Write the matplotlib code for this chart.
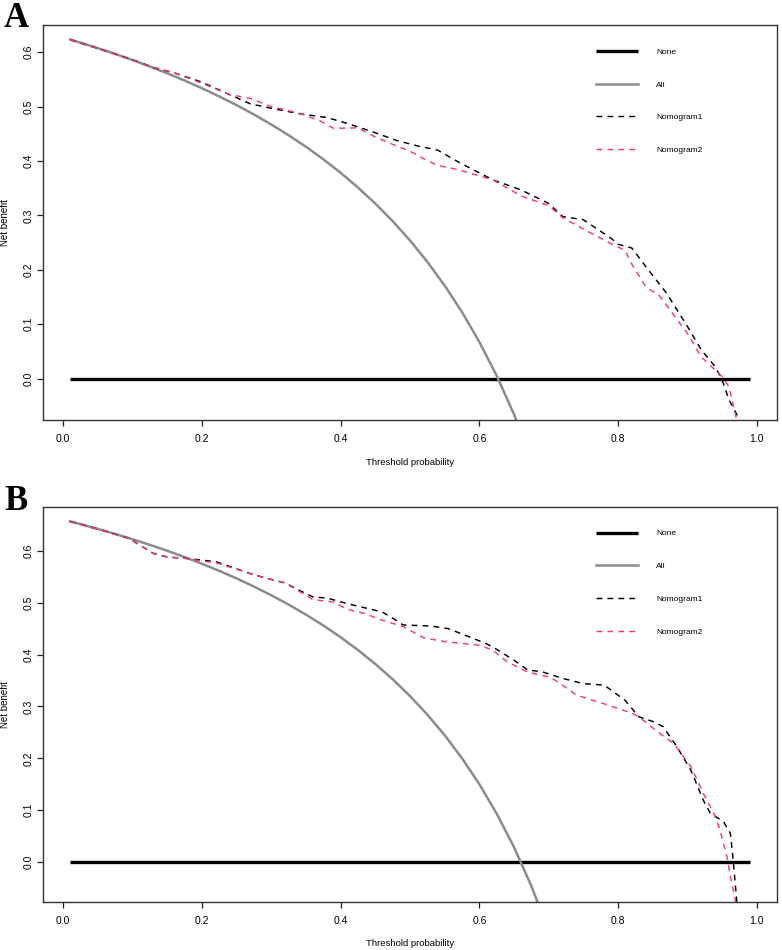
import matplotlib
matplotlib.use("Agg")
import matplotlib.pyplot as plt

plt.rcParams['font.family'] = ['Liberation Sans', 'DejaVu Sans']

# ---------------- data ----------------
none_x = [0.01, 0.99]
none_y = [0.0, 0.0]

# Panel A
a_all_x = [0.01, 0.025, 0.05, 0.075, 0.10, 0.125, 0.15, 0.175, 0.20, 0.225, 0.25, 0.275,
           0.30, 0.325, 0.35, 0.375, 0.40, 0.425, 0.45, 0.475, 0.50, 0.525, 0.55, 0.575,
           0.60, 0.625, 0.65, 0.675]
a_all_y = [0.6232, 0.6174, 0.6074, 0.5968, 0.5856, 0.5737, 0.5612, 0.5479, 0.5338,
           0.5187, 0.5027, 0.4855, 0.4671, 0.4474, 0.4262, 0.4032, 0.3783, 0.3513,
           0.3218, 0.2895, 0.2540, 0.2147, 0.1711, 0.1224, 0.0675, 0.0053, -0.0657,
           -0.1477]

a_nom1_x = [0.01, 0.05, 0.10, 0.13, 0.16, 0.20, 0.24, 0.27, 0.30, 0.34, 0.38, 0.41,
            0.45, 0.48, 0.51, 0.54, 0.57, 0.62, 0.66, 0.70, 0.72, 0.75, 0.79, 0.80,
            0.82, 0.84, 0.87, 0.90, 0.92, 0.94, 0.95, 0.96, 0.975, 0.98]
a_nom1_y = [0.623, 0.607, 0.586, 0.572, 0.562, 0.545, 0.522, 0.505, 0.497, 0.487,
            0.480, 0.469, 0.452, 0.438, 0.428, 0.420, 0.398, 0.365, 0.347, 0.322,
            0.298, 0.292, 0.258, 0.247, 0.240, 0.206, 0.157, 0.096, 0.053, 0.022,
            -0.002, -0.039, -0.075, -0.12]

a_nom2_x = [0.01, 0.05, 0.10, 0.13, 0.16, 0.20, 0.24, 0.27, 0.30, 0.34, 0.37, 0.39,
            0.425, 0.45, 0.48, 0.50, 0.52, 0.54, 0.57, 0.62, 0.66, 0.70, 0.72, 0.75,
            0.79, 0.81, 0.82, 0.84, 0.86, 0.87, 0.90, 0.92, 0.94, 0.95, 0.96, 0.97, 0.98]
a_nom2_y = [0.623, 0.607, 0.586, 0.572, 0.562, 0.543, 0.522, 0.515, 0.500, 0.488,
            0.474, 0.460, 0.461, 0.444, 0.428, 0.418, 0.404, 0.392, 0.384, 0.365,
            0.336, 0.318, 0.296, 0.275, 0.248, 0.236, 0.210, 0.169, 0.152, 0.135,
            0.083, 0.040, 0.016, 0.004, -0.015, -0.070, -0.12]

# Panel B
b_all_x = [0.01, 0.025, 0.05, 0.075, 0.10, 0.125, 0.15, 0.175, 0.20, 0.225, 0.25, 0.275,
           0.30, 0.325, 0.35, 0.375, 0.40, 0.425, 0.45, 0.475, 0.50, 0.525, 0.55, 0.575,
           0.60, 0.625, 0.65, 0.675, 0.70]
b_all_y = [0.6566, 0.6513, 0.6421, 0.6324, 0.6222, 0.6114, 0.6000, 0.5879, 0.5750,
           0.5613, 0.5467, 0.5310, 0.5143, 0.4963, 0.4769, 0.4560, 0.4333, 0.4087,
           0.3818, 0.3524, 0.3200, 0.2842, 0.2444, 0.2000, 0.1500, 0.0933, 0.0286,
           -0.0462, -0.1333]

b_nom1_x = [0.01, 0.05, 0.095, 0.11, 0.13, 0.15, 0.18, 0.20, 0.22, 0.27, 0.29, 0.32,
            0.34, 0.36, 0.38, 0.41, 0.46, 0.48, 0.49, 0.53, 0.555, 0.58, 0.61, 0.625,
            0.65, 0.67, 0.69, 0.72, 0.75, 0.78, 0.81, 0.83, 0.85, 0.865, 0.885, 0.905,
            0.923, 0.933, 0.952, 0.962, 0.966, 0.971, 0.975]
b_nom1_y = [0.6566, 0.642, 0.624, 0.611, 0.595, 0.588, 0.585, 0.582, 0.579, 0.556,
            0.548, 0.538, 0.524, 0.511, 0.509, 0.498, 0.482, 0.466, 0.457, 0.455,
            0.450, 0.437, 0.421, 0.410, 0.389, 0.370, 0.367, 0.354, 0.344, 0.341,
            0.312, 0.280, 0.271, 0.261, 0.222, 0.177, 0.119, 0.094, 0.078, 0.055,
            0.004, -0.073, -0.12]

b_nom2_x = [0.01, 0.05, 0.095, 0.11, 0.13, 0.15, 0.18, 0.20, 0.22, 0.27, 0.29, 0.32,
            0.34, 0.36, 0.39, 0.41, 0.435, 0.46, 0.49, 0.52, 0.55, 0.60, 0.62, 0.64,
            0.67, 0.70, 0.71, 0.74, 0.78, 0.82, 0.83, 0.86, 0.88, 0.905, 0.923, 0.938,
            0.947, 0.957, 0.962, 0.969, 0.975]
b_nom2_y = [0.6566, 0.642, 0.624, 0.611, 0.595, 0.588, 0.585, 0.580, 0.577, 0.556,
            0.548, 0.538, 0.522, 0.506, 0.501, 0.487, 0.479, 0.466, 0.454, 0.432,
            0.425, 0.418, 0.408, 0.386, 0.366, 0.357, 0.350, 0.322, 0.305, 0.287,
            0.280, 0.248, 0.229, 0.184, 0.132, 0.094, 0.062, 0.010, -0.028, -0.073,
            -0.12]

legend_labels = ["None", "All", "Nomogram1", "Nomogram2"]
x_ticks = [0.0, 0.2, 0.4, 0.6, 0.8, 1.0]
y_ticks = [0.0, 0.1, 0.2, 0.3, 0.4, 0.5, 0.6]
panel_letters = ["A", "B"]

PINK = "#F23C78"
GRAY = "#8C8C8C"
DASH = (0, (4, 3.5))

W, H = 782, 950
fig = plt.figure(figsize=(W / 100, H / 100), dpi=100)


def px_axes(left, top, right, bottom):
    return fig.add_axes([left / W, 1 - bottom / H, (right - left) / W, (bottom - top) / H])


panels = [
    dict(box=(43, 25, 777, 420), ylim=(-0.076, 0.650), all=(a_all_x, a_all_y),
         n1=(a_nom1_x, a_nom1_y), n2=(a_nom2_x, a_nom2_y), letter_y=27),
    dict(box=(43, 506.7, 777, 901.7), ylim=(-0.0765, 0.685), all=(b_all_x, b_all_y),
         n1=(b_nom1_x, b_nom1_y), n2=(b_nom2_x, b_nom2_y), letter_y=510),
]

for p, letter in zip(panels, panel_letters):
    ax = px_axes(*p["box"])
    ax.plot(none_x, none_y, color="black", lw=2.4, solid_capstyle="butt", label=legend_labels[0])
    ax.plot(*p["all"], color=GRAY, lw=1.8, label=legend_labels[1])
    ax.plot(*p["n1"], color="black", lw=1.05, linestyle=DASH, label=legend_labels[2])
    ax.plot(*p["n2"], color=PINK, lw=1.05, linestyle=DASH, label=legend_labels[3])
    ax.set_xlim(-0.0292, 1.0292)
    ax.set_ylim(*p["ylim"])
    ax.set_xticks(x_ticks)
    ax.set_xticklabels([f"{v:.1f}" for v in x_ticks])
    ax.set_yticks(y_ticks)
    ax.set_yticklabels([f"{v:.1f}" for v in y_ticks], rotation=90, va="center")
    ax.tick_params(direction="out", length=4.5, width=0.9, labelsize=7.5, color="#222222")
    ax.tick_params(axis="x", pad=5.5)
    ax.tick_params(axis="y", pad=2.0)
    for s in ax.spines.values():
        s.set_linewidth(1.0)
        s.set_color("#333333")
    ax.set_xlabel("Threshold probability", fontsize=6.8, labelpad=10)
    ax.set_ylabel("Net benefit", fontsize=7, labelpad=10)
    ax.legend(loc="upper left", bbox_to_anchor=(0.754, 0.942), frameon=False,
              fontsize=6, handlelength=5.0, handletextpad=2.2, labelspacing=3.0,
              borderpad=0, borderaxespad=0)
    fig.text(4 / W, 1 - p["letter_y"] / H, letter, fontsize=25, fontweight="bold",
             family="Liberation Serif", ha="left", va="baseline")

fig.savefig("out.png", dpi=100)
